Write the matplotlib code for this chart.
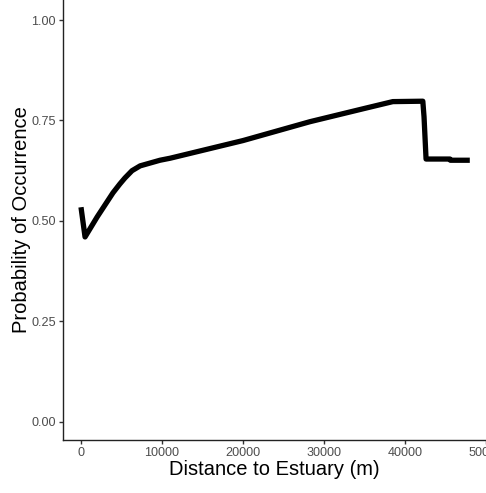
import matplotlib
matplotlib.use("Agg")
import matplotlib.pyplot as plt

distance = [0, 500, 2000, 3950, 4800, 5430, 6300, 7300, 9750, 11000, 20000, 28270, 35000, 38500, 42200, 42350, 42600, 45550, 45600, 48000]
probability = [0.534, 0.460, 0.510, 0.570, 0.592, 0.607, 0.625, 0.637, 0.651, 0.656, 0.700, 0.747, 0.780, 0.797, 0.798, 0.759, 0.654, 0.654, 0.651, 0.651]

x_ticks = [0, 10000, 20000, 30000, 40000, 50000]
y_ticks = [0.00, 0.25, 0.50, 0.75, 1.00]
y_tick_labels = ["0.00", "0.25", "0.50", "0.75", "1.00"]

plt.rcParams['font.family'] = ['Liberation Sans', 'DejaVu Sans']

fig = plt.figure(figsize=(4.86, 4.93), dpi=100)
ax = fig.add_axes([63/486, 1 - 440/493, 1 - 63/486, 440/493])

ax.plot(distance, probability, color='black', linewidth=3.8, solid_joinstyle='round', solid_capstyle='butt')

ax.set_xlim(-2222, 50000)
ax.set_ylim(-0.0456, 1.05)
ax.set_xticks(x_ticks)
ax.set_xticklabels([str(v) for v in x_ticks])
ax.set_yticks(y_ticks)
ax.set_yticklabels(y_tick_labels)

for s in ['top', 'right']:
    ax.spines[s].set_visible(False)
for s in ['left', 'bottom']:
    ax.spines[s].set_color('#222222')
    ax.spines[s].set_linewidth(1.0)

ax.tick_params(axis='both', length=3, width=1, color='#333333', labelcolor='#4D4D4D', labelsize=9.1, pad=2)

ax.set_xlabel("Distance to Estuary (m)", fontsize=14.5, color='black', labelpad=1)
ax.set_ylabel("Probability of Occurrence", fontsize=14.5, color='black', labelpad=0)

fig.savefig("out.png", dpi=100)
